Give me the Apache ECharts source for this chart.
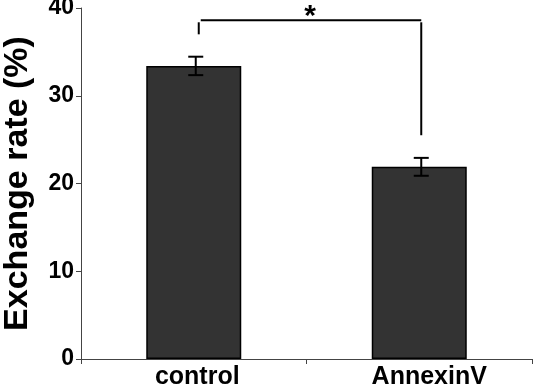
<!DOCTYPE html>
<html>
<head>
<meta charset="utf-8">
<script src="https://cdn.jsdelivr.net/npm/echarts@6/dist/echarts.min.js"></script>
<style>html,body{margin:0;padding:0;background:#fff}#c{width:533px;height:391px}</style>
</head>
<body>
<div id="c"></div>
<script>
var categories = ['control', 'AnnexinV'];
var means = [33.4, 21.9];
var errors = [1.05, 1.02];
var yTicks = [0, 10, 20, 30, 40];
// significance bracket: [leftIdx, rightIdx, topValue, leftBottom, rightBottom]
var bracket = [0, 1, 38.6, 37.0, 25.5];
var sigLabel = '*';

var errData = means.map(function (m, i) { return [i, m - errors[i], m + errors[i]]; });
var FONT = 'Liberation Sans, Arial, sans-serif';

var chart = echarts.init(document.getElementById('c'), null, {renderer: 'canvas'});
chart.setOption({
  animation: false,
  grid: {left: 81, right: 1, top: 8, bottom: 32, containLabel: false, outerBoundsMode: 'none'},
  xAxis: {
    type: 'category',
    data: categories,
    axisLine: {lineStyle: {color: '#444', width: 1}},
    axisTick: {show: true, alignWithLabel: false, length: 5, lineStyle: {color: '#444'}},
    axisLabel: {color: '#000', fontFamily: FONT, fontWeight: 'bold', fontSize: 25, margin: 6,
      formatter: function (v, i) { return '{c' + i + '|' + v + '}'; },
      rich: {
        c0: {color: '#000', fontFamily: FONT, fontWeight: 'bold', fontSize: 25, padding: [0, 0, 0, 7]},
        c1: {color: '#000', fontFamily: FONT, fontWeight: 'bold', fontSize: 25, padding: [0, 0, 0, 20]}
      }
    }
  },
  yAxis: {
    type: 'value', min: 0, max: 40, interval: 10,
    name: 'Exchange rate (%)',
    nameLocation: 'middle', nameGap: 46,
    nameTextStyle: {color: '#000', fontFamily: FONT, fontWeight: 'bold', fontSize: 34},
    axisLine: {show: true, lineStyle: {color: '#444', width: 1}},
    axisTick: {show: true, length: 5, lineStyle: {color: '#444'}},
    splitLine: {show: false},
    axisLabel: {color: '#000', fontFamily: FONT, fontWeight: 'bold', fontSize: 23, margin: 7,
      formatter: function (v) { return yTicks.indexOf(v) >= 0 ? String(v) : ''; }}
  },
  series: [
    {
      type: 'bar', data: means, barWidth: 95,
      itemStyle: {color: '#333333', borderColor: '#000', borderWidth: 1.5}
    },
    {
      type: 'custom', data: errData, z: 10,
      renderItem: function (params, api) {
        var x = api.value(0);
        var lo = api.coord([x, api.value(1)]);
        var hi = api.coord([x, api.value(2)]);
        var cx = lo[0] + 2, w = 7.5;
        var st = {stroke: '#000', lineWidth: 2};
        return {type: 'group', children: [
          {type: 'line', shape: {x1: cx, y1: lo[1], x2: cx, y2: hi[1]}, style: st},
          {type: 'line', shape: {x1: cx - w, y1: lo[1], x2: cx + w, y2: lo[1]}, style: st},
          {type: 'line', shape: {x1: cx - w, y1: hi[1], x2: cx + w, y2: hi[1]}, style: st}
        ]};
      }
    },
    {
      type: 'custom', data: [bracket], z: 10,
      renderItem: function (params, api) {
        var top = api.value(2);
        var l = api.coord([api.value(0), top]);
        var r = api.coord([api.value(1), top]);
        var lb = api.coord([api.value(0), api.value(3)]);
        var rb = api.coord([api.value(1), api.value(4)]);
        var lx = l[0] + 5, rx = r[0] + 2;
        var st = {stroke: '#000', lineWidth: 2};
        return {type: 'group', children: [
          {type: 'line', shape: {x1: lx + 2, y1: l[1], x2: rx, y2: l[1]}, style: st},
          {type: 'line', shape: {x1: lx, y1: l[1] + 2, x2: lx, y2: lb[1]}, style: st},
          {type: 'line', shape: {x1: rx, y1: l[1] + 2, x2: rx, y2: rb[1]}, style: st},
          {type: 'text', x: (lx + rx) / 2, y: l[1] + 11, style: {text: sigLabel, fill: '#000',
            font: 'bold 30px Liberation Sans, Arial', align: 'center', verticalAlign: 'bottom'}}
        ]};
      }
    }
  ]
});
</script>
</body>
</html>
